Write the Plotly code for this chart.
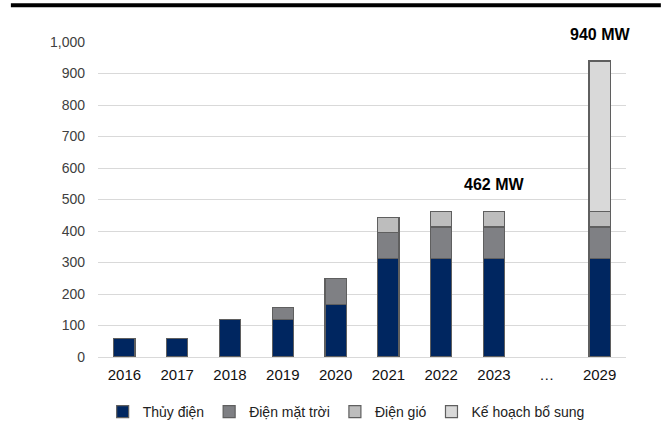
import plotly.graph_objects as go

categories = ["2016", "2017", "2018", "2019", "2020", "2021", "2022", "2023", "…", "2029"]
hydro = [60, 60, 118, 118, 167, 312, 312, 312, None, 312]
solar = [None, None, None, 40, 81, 83, 101, 101, None, 101]
wind = [None, None, None, None, None, 49, 49, 49, None, 49]
plan = [None, None, None, None, None, None, None, None, None, 478]
series_names = ["Thủy điện", "Điện mặt trời", "Điện gió", "Kế hoạch bổ sung"]
colors = ["#002660", "#7f8084", "#bdbdbd", "#d9d9d9"]
labelled = ["2023", "2029"]
tick_vals = [0, 100, 200, 300, 400, 500, 600, 700, 800, 900, 1000]

FONT = "Liberation Sans, Arial, sans-serif"

fig = go.Figure()
for name, vals, col in zip(series_names, [hydro, solar, wind, plan], colors):
    fig.add_trace(go.Bar(
        x=categories, y=vals, name=name,
        marker=dict(color=col, line=dict(color="#5f5f5f", width=1.2)),
        width=0.4,
    ))

totals = []
for i in range(len(categories)):
    s = sum(v[i] or 0 for v in [hydro, solar, wind, plan])
    totals.append(s)

for cat in labelled:
    i = categories.index(cat)
    fig.add_annotation(
        x=i, y=totals[i], text=f"<b>{totals[i]} MW</b>",
        showarrow=False, yanchor="bottom", yshift=16,
        font=dict(family=FONT, size=16, color="#000000"),
    )

fig.add_shape(type="rect", xref="paper", yref="paper",
              x0=-0.165, x1=1.066, y0=1.110, y1=1.123,
              fillcolor="#000000", line=dict(width=0))

fig.update_layout(
    barmode="stack",
    width=672, height=426,
    margin=dict(l=98, r=46, t=42, b=69, pad=0, autoexpand=False),
    paper_bgcolor="white", plot_bgcolor="white",
    font=dict(family=FONT, size=14, color="#333333"),
    showlegend=True,
    legend=dict(orientation="h", x=0.47, xanchor="center", y=-0.124, yanchor="top",
                font=dict(family=FONT, size=14, color="#222222"),
                itemwidth=30, tracegroupgap=0, traceorder="normal"),
    xaxis=dict(type="category", categoryorder="array", categoryarray=categories,
               range=[-0.5, len(categories) - 0.5],
               showgrid=False, zeroline=False, showline=False,
               ticks="", tickfont=dict(size=15, color="#111111"),
               ticklabelstandoff=7),
    yaxis=dict(range=[0, 1000], tickvals=tick_vals, tickformat=",",
               showgrid=True, gridcolor="#d9d9d9", gridwidth=1,
               zeroline=True, zerolinecolor="#d9d9d9", zerolinewidth=1,
               showline=False, ticks="", ticklabelstandoff=12,
               tickfont=dict(size=14, color="#404040")),
)

fig.write_html("out.html")
